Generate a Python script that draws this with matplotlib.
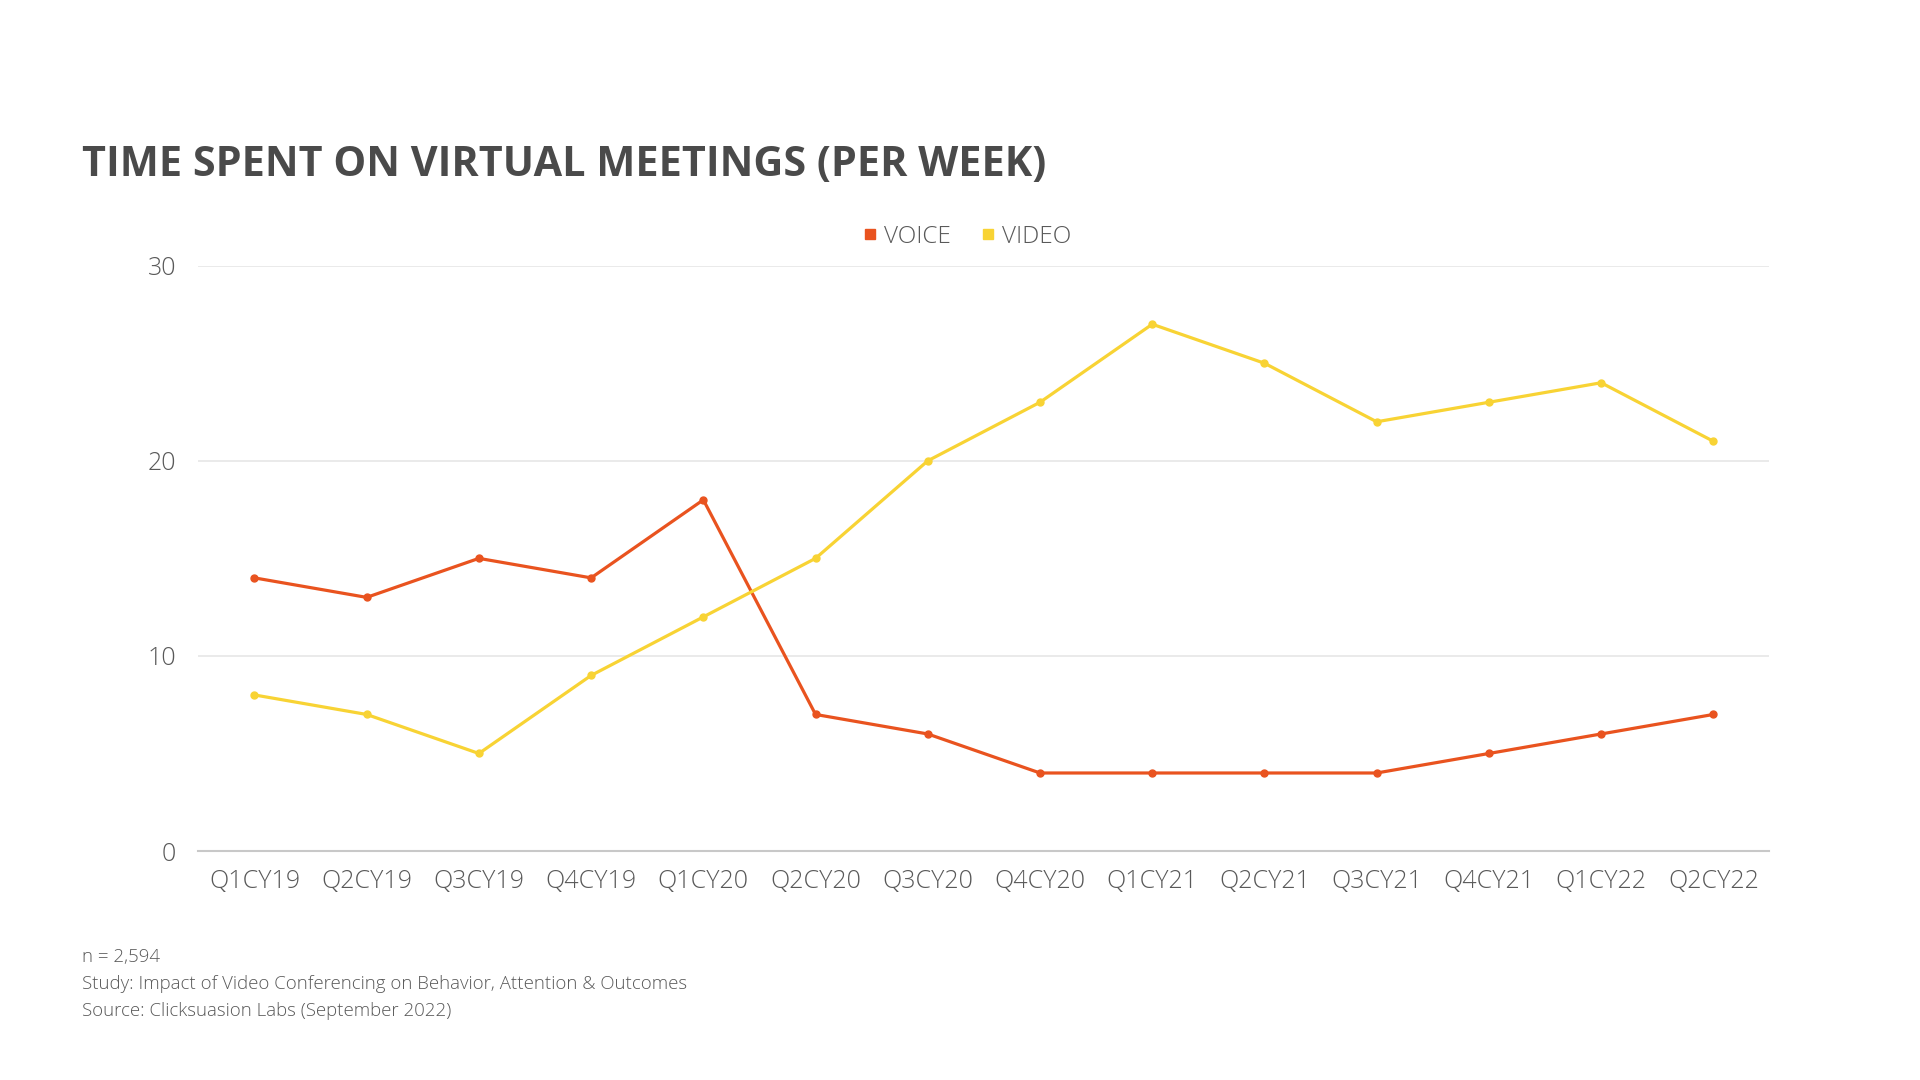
import matplotlib.pyplot as plt
from matplotlib.lines import Line2D

quarters = ["Q1CY19", "Q2CY19", "Q3CY19", "Q4CY19", "Q1CY20", "Q2CY20", "Q3CY20",
            "Q4CY20", "Q1CY21", "Q2CY21", "Q3CY21", "Q4CY21", "Q1CY22", "Q2CY22"]
voice = [14, 13, 15, 14, 18, 7, 6, 4, 4, 4, 4, 5, 6, 7]
video = [8, 7, 5, 9, 12, 15, 20, 23, 27, 25, 22, 23, 24, 21]
yticks = [0, 10, 20, 30]

orange = "#E9531F"
yellow = "#F8D334"
grey = "#595959"

plt.rcParams['font.family'] = ['Open Sans', 'DejaVu Sans']

fig = plt.figure(figsize=(19.2, 10.8), dpi=100)
ax = fig.add_axes([0.1033, 0.212, 0.8183, 0.542])

x = range(len(quarters))
ax.plot(x, voice, color=orange, lw=2.3, marker="o", ms=5, zorder=3)
ax.plot(x, video, color=yellow, lw=2.3, marker="o", ms=5, zorder=3)

ax.set_xlim(-0.5, len(quarters) - 0.5)
ax.set_ylim(0, 30)
ax.set_yticks(yticks)
ax.set_xticks(list(x))
ax.set_xticklabels(quarters)
ax.grid(axis="y", color="#e6e6e6", lw=1.2)
ax.set_axisbelow(True)
for s in ["top", "right", "left"]:
    ax.spines[s].set_visible(False)
ax.spines["bottom"].set_color("#c8c8c8")
ax.spines["bottom"].set_linewidth(1.5)
ax.tick_params(length=0, labelsize=18, labelcolor=grey, pad=13)
for lab in ax.get_xticklabels() + ax.get_yticklabels():
    lab.set_fontweight("light")
ax.tick_params(axis="y", pad=16)

handles = [Line2D([], [], ls="", marker="s", ms=7, color=orange),
           Line2D([], [], ls="", marker="s", ms=7, color=yellow)]
leg = fig.legend(handles, ["VOICE", "VIDEO"], loc="center", bbox_to_anchor=(0.503, 0.781),
                 ncol=2, frameon=False, handletextpad=0.2, columnspacing=1.1,
                 handlelength=0.8, prop={"weight": "light", "size": 17.5})
for t in leg.get_texts():
    t.set_color(grey)

fig.text(0.0427, 0.847, "TIME SPENT ON VIRTUAL MEETINGS (PER WEEK)", fontsize=29.8,
         fontweight="bold", color="#4a4a4a", va="center", ha="left")

notes = ["n = 2,594",
         "Study: Impact of Video Conferencing on Behavior, Attention & Outcomes",
         "Source: Clicksuasion Labs (September 2022)"]
for i, n in enumerate(notes):
    fig.text(0.0427, 0.1135 - i * 0.0247, n, fontsize=13.4, fontweight="light",
             color=grey, va="center", ha="left")

fig.savefig("out.png", dpi=100, facecolor="white")
